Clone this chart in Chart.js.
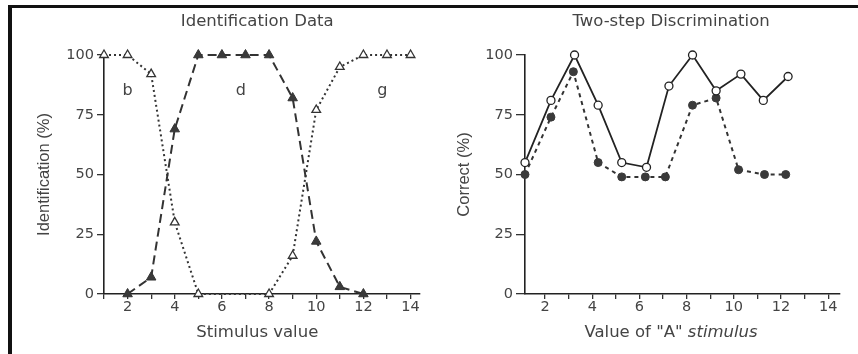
<!DOCTYPE html>
<html>
<head>
<meta charset="utf-8">
<script src="https://cdn.jsdelivr.net/npm/chart.js@4.4.0/dist/chart.umd.min.js"></script>
<style>
body{margin:0;background:#fff;}
#moldura{position:absolute;left:8px;top:5px;width:860px;height:360px;border-top:3px solid #111;border-left:4px solid #111;}
#g1{position:absolute;left:0;top:0;}
#g2{position:absolute;left:430px;top:0;}
</style>
</head>
<body>
<div id="moldura"></div>
<canvas id="g1" width="430" height="354"></canvas>
<canvas id="g2" width="428" height="354"></canvas>
<script>
// identification: open triangles (b and g), filled triangles (d)
const estimuloBG = [1,2,3,4,5,8,9,10,11,12,13,14];
const identBG = [100,100,92,30,0,0,16,77,95,100,100,100];
const estimuloD = [2,3,4,5,6,7,8,9,10,11,12];
const identD = [0,7,69,100,100,100,100,82,22,3,0];
const letras = ["b","d","g"];
const letrasX = [2,6.8,12.8];
const letrasY = [85,85,85];

// two-step discrimination: obtained (open) and predicted (filled)
const valorAObtida = [1.15,2.25,3.25,4.25,5.25,6.3,7.25,8.25,9.25,10.3,11.25,12.3];
const obtida = [55,81,100,79,55,53,87,100,85,92,81,91];
const valorAPrevista = [1.15,2.25,3.2,4.25,5.25,6.25,7.1,8.25,9.25,10.2,11.3,12.2];
const prevista = [50,74,93,55,49,49,49,79,82,52,50,50];

const pares = (xs, ys) => xs.map((x,i)=>({x:x, y:ys[i]}));

const fonte = "DejaVu Sans";
const corTexto = "#444";

const rotulos = {
  id: "rotulos",
  afterDraw(chart, args, o){
    const {ctx, scales} = chart;
    const cx = scales.x.getPixelForValue(o.centro);
    ctx.save();
    ctx.fillStyle = corTexto;
    ctx.textBaseline = "middle";
    ctx.textAlign = "center";
    ctx.font = "16.5px '" + fonte + "'";
    ctx.fillText(o.titulo, cx, 22);

    const a = o.eixoX, b = o.eixoXItalico || "";
    const wa = ctx.measureText(a).width;
    ctx.font = "italic 16.5px '" + fonte + "'";
    const wb = ctx.measureText(b).width;
    const x0 = cx - (wa + wb) / 2;
    ctx.textAlign = "left";
    ctx.font = "16.5px '" + fonte + "'";
    ctx.fillText(a, x0, 333);
    ctx.font = "italic 16.5px '" + fonte + "'";
    ctx.fillText(b, x0 + wa, 333);

    ctx.textAlign = "center";
    ctx.font = "16px '" + fonte + "'";
    (o.letras || []).forEach((t,i)=>{
      ctx.fillText(t, scales.x.getPixelForValue(o.letrasX[i]), scales.y.getPixelForValue(o.letrasY[i]));
    });
    ctx.restore();
  }
};

function opcoes(cfg){
  return {
    responsive:false,
    animation:false,
    layout:{padding:{top:55, right:cfg.dir, bottom:0, left:0}},
    plugins:{
      legend:{display:false},
      tooltip:{enabled:false},
      rotulos:cfg.rotulos
    },
    scales:{
      x:{
        type:"linear",
        min:cfg.xmin,
        max:cfg.xmax,
        afterFit:s=>{ s.height = 60; },
        grid:{drawOnChartArea:false, drawTicks:true, tickLength:5, color:"#333", lineWidth:1.3},
        border:{display:true, color:"#222", width:1.6},
        ticks:{
          stepSize:1,
          includeBounds:false,
          autoSkip:false,
          maxRotation:0,
          padding:0,
          color:corTexto,
          font:{family:fonte, size:14.5},
          callback:v=>(Number.isInteger(v) && v % 2 === 0) ? v : ""
        }
      },
      y:{
        min:0,
        max:100,
        afterFit:s=>{ s.width = cfg.larguraY; },
        grid:{drawOnChartArea:false, drawTicks:true, tickLength:cfg.ticoY, color:"#333", lineWidth:1.3},
        border:{display:true, color:"#222", width:1.6},
        ticks:{stepSize:25, padding:3, color:corTexto, font:{family:fonte, size:14.5}},
        title:{
          display:true,
          text:cfg.tituloY,
          color:corTexto,
          font:{family:"Liberation Sans", size:16.5},
          padding:{top:cfg.padTituloY, bottom:0}
        }
      }
    }
  };
}

new Chart(document.getElementById("g1"),{
  type:"line",
  data:{
    datasets:[
      {
        data:pares(estimuloBG, identBG),
        borderColor:"#333",
        borderWidth:2,
        borderDash:[2,3],
        pointStyle:"triangle",
        pointRadius:5,
        pointBackgroundColor:"#fff",
        pointBorderColor:"#333",
        pointBorderWidth:1.3,
        clip:false
      },
      {
        data:pares(estimuloD, identD),
        borderColor:"#333",
        borderWidth:2,
        borderDash:[9,5],
        pointStyle:"triangle",
        pointRadius:5.5,
        pointBackgroundColor:"#3a3a3a",
        pointBorderColor:"#333",
        pointBorderWidth:1,
        clip:false
      }
    ]
  },
  options:opcoes({
    dir:10, xmin:1, xmax:14.4, larguraY:104, ticoY:7, padTituloY:35,
    tituloY:"Identification (%)",
    rotulos:{centro:7.5, titulo:"Identification Data", eixoX:"Stimulus value",
      letras:letras, letrasX:letrasX, letrasY:letrasY}
  }),
  plugins:[rotulos]
});

new Chart(document.getElementById("g2"),{
  type:"line",
  data:{
    datasets:[
      {
        data:pares(valorAObtida, obtida),
        borderColor:"#222",
        borderWidth:1.8,
        pointStyle:"circle",
        pointRadius:4,
        pointBackgroundColor:"#fff",
        pointBorderColor:"#222",
        pointBorderWidth:1.3,
        clip:false
      },
      {
        data:pares(valorAPrevista, prevista),
        borderColor:"#333",
        borderWidth:2,
        borderDash:[4,4],
        pointStyle:"circle",
        pointRadius:4,
        pointBackgroundColor:"#3a3a3a",
        pointBorderColor:"#3a3a3a",
        pointBorderWidth:1,
        clip:false
      }
    ]
  },
  options:opcoes({
    dir:18, xmin:1.15, xmax:14.5, larguraY:95, ticoY:9, padTituloY:25,
    tituloY:"Correct (%)",
    rotulos:{centro:7.34, titulo:"Two-step Discrimination", eixoX:"Value of \"A\" ", eixoXItalico:"stimulus"}
  }),
  plugins:[rotulos]
});
</script>
</body>
</html>
